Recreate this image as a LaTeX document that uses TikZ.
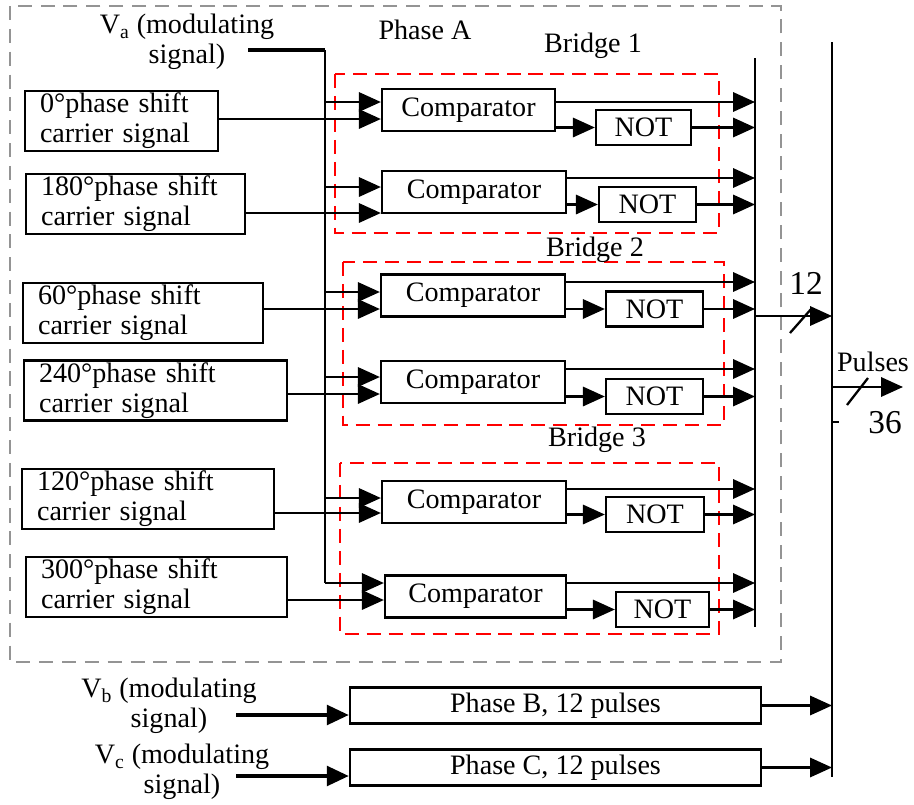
\documentclass[tikz,border=0pt]{standalone}
\usepackage{fontspec}
\setmainfont{Liberation Serif}
\usetikzlibrary{arrows.meta,calc}

\tikzset{
  sig/.style={-{Triangle[length=12.5pt,width=11pt]},line width=1.3pt},
  boxed/.style={draw,line width=1.3pt,inner sep=0pt,font=\fontsize{16}{17}\selectfont},
  carrier/.style={boxed,align=left,inner xsep=0.3cm,minimum height=1.2cm,text width=#1},
  cmpbox/.style={boxed,minimum width=#1,minimum height=0.84cm},
  notbox/.style={boxed,minimum width=#1,minimum height=0.7cm},
  phasebox/.style={boxed,minimum width=8.22cm,minimum height=0.72cm},
  bridge/.style={draw=red,line width=1.2pt,dash pattern=on 8pt off 4.5pt},
  txt/.style={font=\fontsize{16}{17}\selectfont,align=center,inner sep=0pt},
}

\begin{document}
\begin{tikzpicture}[x=0.02cm,y=-0.02cm]
  \useasboundingbox (0,0) rectangle (914,805);

  % Phase A frame and bridge frames
  \draw[black!42,line width=1.2pt,dash pattern=on 8pt off 5pt] (10,6) rectangle (781,662);
  \node[txt] (phA) at (425,30) {Phase A};
  \draw[bridge] (335,74) rectangle (719,233);
  \draw[bridge] (343,262) rectangle (724,425);
  \draw[bridge] (340,463) rectangle (719,634);
  \node[txt] (br1) at (593,46) {Bridge 1};
  \node[txt] (br2) at (595,250) {Bridge 2};
  \node[txt] (br3) at (597,440) {Bridge 3};

  % carrier signals
  \node[carrier=3.26cm] (car1) at (121.5,121) {0°phase shift\\ carrier signal};
  \node[carrier=3.78cm] (car2) at (135.5,204) {180°phase shift\\carrier signal};
  \node[carrier=4.20cm] (car3) at (143,313) {60°phase shift\\carrier signal};
  \node[carrier=4.66cm] (car4) at (155.5,390.5) {240°phase shift\\ carrier signal};
  \node[carrier=4.44cm] (car5) at (148,499) {120°phase shift\\carrier signal};
  \node[carrier=4.62cm] (car6) at (156.5,587) {300°phase shift\\carrier signal};

  % comparators and inverters
  \node[cmpbox=3.46cm] (cmp1) at (468.5,110) {Comparator};
  \node[cmpbox=3.68cm] (cmp2) at (474,192) {Comparator};
  \node[cmpbox=3.68cm] (cmp3) at (473,295.5) {Comparator};
  \node[cmpbox=3.68cm] (cmp4) at (473,382) {Comparator};
  \node[cmpbox=3.68cm] (cmp5) at (474,502) {Comparator};
  \node[cmpbox=3.62cm] (cmp6) at (475.5,596.5) {Comparator};
  \node[notbox=1.90cm] (not1) at (643.5,127.5) {NOT};
  \node[notbox=1.94cm] (not2) at (647.5,204.5) {NOT};
  \node[notbox=1.94cm] (not3) at (654.5,309) {NOT};
  \node[notbox=1.94cm] (not4) at (654.5,396.5) {NOT};
  \node[notbox=1.96cm] (not5) at (655,514.5) {NOT};
  \node[notbox=1.86cm] (not6) at (662.5,609.5) {NOT};

  % modulating signal and buses
  \node[txt] (valab) at (187,42) {V\textsubscript{a} (modulating\\signal)};
  \coordinate (va) at (248,50);
  \coordinate (vtop) at (325,50);
  \coordinate (vbot) at (325,583);
  \coordinate (otop) at (755,58);
  \coordinate (obot) at (755,627);
  \coordinate (ptop) at (832,42);
  \coordinate (pbot) at (832,777);
  \draw[line width=2.4pt] (va) -- (vtop);
  \draw[line width=1.3pt] (vtop) -- (vbot);
  \draw[line width=1.3pt] (otop) -- (obot);
  \draw[line width=1.3pt] (ptop) -- (pbot);

  \foreach \i/\ia/\ib/\oa in {1/102/119/102, 2/187/213/178, 3/292/309/282,
                              4/377/394/369, 5/498/513/489, 6/583/600/583}{
    \draw[sig] (vtop |- 0,\ia) -- (cmp\i.west |- 0,\ia);
    \draw[sig] (car\i.east |- 0,\ib) -- (cmp\i.west |- 0,\ib);
    \draw[sig] (cmp\i.east |- 0,\oa) -- (otop |- 0,\oa);
    \draw[sig] (cmp\i.east |- not\i) -- (not\i.west);
    \draw[sig] (not\i.east) -- (otop |- not\i);
  }

  % 12 pulses of phase A
  \draw[sig] (otop |- 0,316) -- (ptop |- 0,316);
  \draw[line width=1.3pt] (790,333) -- (812,308);
  \node[txt,font=\fontsize{19}{20}\selectfont] (n12) at (806,283) {12};

  % phases B and C
  \node[phasebox] (phb) at (555.5,705.5) {Phase B, 12 pulses};
  \node[phasebox] (phc) at (555.5,767.5) {Phase C, 12 pulses};
  \node[txt] (vblab) at (169,706) {V\textsubscript{b} (modulating\\signal)};
  \node[txt] (vclab) at (182,772) {V\textsubscript{c} (modulating\\signal)};
  \coordinate (vbin) at (236,715);
  \coordinate (vcin) at (236,776);
  \draw[sig,line width=2.4pt] (vbin) -- (phb.west |- vbin);
  \draw[sig,line width=2.4pt] (vcin) -- (phc.west |- vcin);
  \draw[sig] (phb.east) -- (ptop |- phb);
  \draw[sig] (phc.east) -- (ptop |- phc);

  % output pulses
  \coordinate (pout) at (903,387);
  \draw[sig] (ptop |- pout) -- (pout);
  \draw[line width=1.3pt] (847,405) -- (868,378);
  \draw[line width=1.3pt] (ptop |- 0,422) -- (839,422);
  \node[txt] (puls) at (873,362) {Pulses};
  \node[txt,font=\fontsize{19}{20}\selectfont] (n36) at (885,423) {36};
\end{tikzpicture}
\end{document}
